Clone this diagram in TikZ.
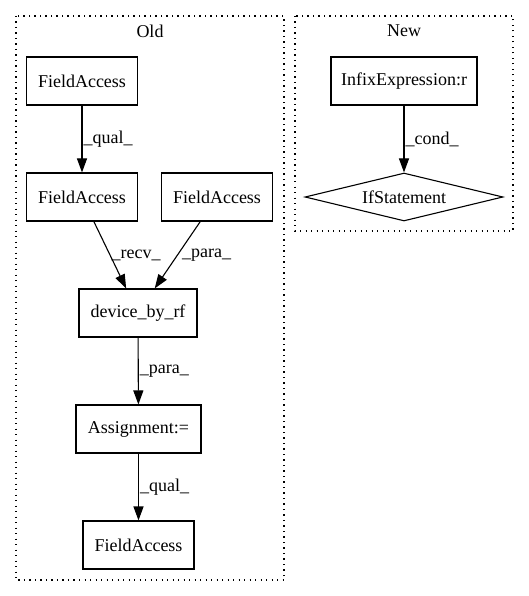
\documentclass[tikz,border=0pt]{standalone}
\usepackage{fontspec}
\setmainfont{Liberation Serif}
\usepackage{tikz}
\usetikzlibrary{
    arrows.meta,
    shapes.geometric,
    positioning
}

\begin{document}
\begin{tikzpicture}[x=1pt,y=-1pt,
    font=\fontsize{18}{21}\selectfont,
    box/.style={draw,line width=1.1pt,minimum height=48pt,inner sep=2pt},
    cond/.style={draw,diamond,aspect=4.1,line width=1.1pt,minimum width=198pt,minimum height=48pt,inner sep=3pt},
    cluster/.style={line width=1.3pt,dash pattern=on 1.3pt off 4.2pt},
    edge/.style={line width=1.1pt,-{Triangle[length=14pt,width=10pt]}},
    lbl/.style={pos=0.5,anchor=west,inner sep=1pt}]
    \useasboundingbox (0,0) rectangle (529,596);
    \draw[cluster] (16,16) rectangle (284,580);
    \draw[cluster] (295,16) rectangle (513,231);
    \node (old) at (150,31) {Old};
    \node (new) at (404,31) {New};
    \node[box,minimum width=111pt] (fa1) at (82,81) {FieldAccess};
    \node[box,minimum width=111pt] (fa2) at (82,197) {FieldAccess};
    \node[box,minimum width=111pt] (fa3) at (217,197) {FieldAccess};
    \node[box,minimum width=118pt] (dev) at (138,313) {device\_by\_rf};
    \node[box,minimum width=125pt] (asg) at (138.5,429) {Assignment:=};
    \node[box,minimum width=111pt] (fa4) at (138.5,545) {FieldAccess};
    \node[box,minimum width=146pt] (infix) at (404,81) {InfixExpression:r};
    \node[cond] (ifst) at (404,197) {IfStatement};
    \draw[edge] (fa1) -- node[lbl] {\_qual\_} (fa2);
    \draw[edge] (fa2) -- node[lbl] {\_recv\_} (dev);
    \draw[edge] (fa3) -- node[lbl,inner sep=4pt] {\_para\_} (dev);
    \draw[edge] (dev) -- node[lbl] {\_para\_} (asg);
    \draw[edge] (asg) -- node[lbl] {\_qual\_} (fa4);
    \draw[edge] (infix) -- node[lbl] {\_cond\_} (ifst);
\end{tikzpicture}
\end{document}
